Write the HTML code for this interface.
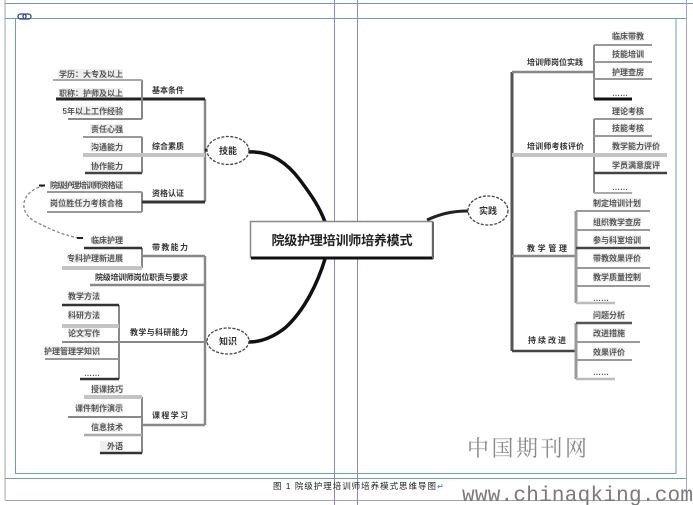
<!DOCTYPE html>
<html><head><meta charset="utf-8">
<style>
html,body{margin:0;padding:0;background:#fff;}
svg{display:block;}
text{font-family:"Liberation Sans","Noto Sans CJK SC",sans-serif;}
.t{font-size:8px;fill:#555;font-weight:bold;}
.l{font-size:8px;fill:#333;font-weight:bold;}
.e{font-size:9px;fill:#333;font-weight:bold;}
</style></head>
<body>
<svg width="693" height="505" viewBox="0 0 693 505" xmlns="http://www.w3.org/2000/svg">
<rect width="693" height="505" fill="#fff"/>
<!-- frame lines -->
<line x1="5" y1="3.5" x2="693" y2="3.5" stroke="#6a9fb5" stroke-width="1"/>
<line x1="5" y1="0" x2="5" y2="500" stroke="#a3a3bb" stroke-width="1"/>
<line x1="686.5" y1="0" x2="686.5" y2="500" stroke="#a3a3bb" stroke-width="1"/>
<line x1="5" y1="18.5" x2="686" y2="18.5" stroke="#6a9fb5" stroke-width="1"/>
<rect x="15.5" y="18.5" width="660.5" height="455" fill="none" stroke="#6a9fb5" stroke-width="1"/>
<line x1="5" y1="478.5" x2="686" y2="478.5" stroke="#6a9fb5" stroke-width="1"/>
<line x1="5" y1="500.5" x2="686" y2="500.5" stroke="#a3a3bb" stroke-width="1"/>
<line x1="334.5" y1="0" x2="334.5" y2="505" stroke="#8a8ac8" stroke-width="1"/>
<line x1="357.5" y1="0" x2="357.5" y2="505" stroke="#8a8ac8" stroke-width="1"/>
<!-- link icon -->
<rect x="18" y="14" width="8" height="5" rx="2.5" fill="none" stroke="#334488" stroke-width="1.3"/>
<rect x="23" y="14" width="8" height="5" rx="2.5" fill="none" stroke="#334488" stroke-width="1.3"/>

<!-- light highlight behind leaf texts -->
<g fill="#efefef">
<rect x="58" y="69" width="65" height="10"/>
<rect x="62" y="88" width="61" height="10"/>
<rect x="75" y="106" width="48" height="10"/>
<rect x="90" y="124" width="33" height="10"/>
<rect x="90" y="142" width="33" height="10"/>
<rect x="90" y="161" width="33" height="10"/>
<rect x="50" y="180" width="73" height="10"/>
<rect x="50" y="198" width="73" height="10"/>
<rect x="93" y="235" width="30" height="10"/>
<rect x="67" y="253" width="56" height="10"/>
<rect x="68" y="291" width="32" height="10"/>
<rect x="68" y="310" width="32" height="10"/>
<rect x="68" y="328" width="32" height="10"/>
<rect x="45" y="346" width="55" height="10"/>
<rect x="92" y="384" width="31" height="10"/>
<rect x="77" y="403" width="46" height="10"/>
<rect x="92" y="422" width="31" height="10"/>
<rect x="100" y="441" width="23" height="10"/>
<rect x="612" y="31" width="32" height="10"/>
<rect x="612" y="49" width="32" height="10"/>
<rect x="612" y="67" width="32" height="10"/>
<rect x="612" y="106" width="32" height="10"/>
<rect x="612" y="123" width="32" height="10"/>
<rect x="612" y="141" width="48" height="10"/>
<rect x="612" y="160" width="48" height="10"/>
<rect x="593" y="198" width="48" height="10"/>
<rect x="593" y="217" width="48" height="10"/>
<rect x="593" y="235" width="48" height="10"/>
<rect x="593" y="253" width="48" height="10"/>
<rect x="593" y="272" width="48" height="10"/>
<rect x="593" y="310" width="32" height="10"/>
<rect x="593" y="328" width="32" height="10"/>
<rect x="593" y="347" width="32" height="10"/>
</g>

<!-- ================= LEFT TOP ================= -->
<g fill="none">
<line x1="205" y1="99" x2="205" y2="202" stroke="#888" stroke-width="2.5"/>
<line x1="56" y1="99" x2="205" y2="99" stroke="#222" stroke-width="3"/>
<line x1="142" y1="80" x2="142" y2="119" stroke="#888" stroke-width="2"/>
<line x1="53" y1="80" x2="142" y2="80" stroke="#aaa" stroke-width="2"/>
<line x1="68" y1="119" x2="142" y2="119" stroke="#888" stroke-width="2"/>
<line x1="142" y1="137" x2="142" y2="173" stroke="#888" stroke-width="2"/>
<line x1="83" y1="137" x2="142" y2="137" stroke="#999" stroke-width="2"/>
<line x1="83" y1="155" x2="205" y2="155" stroke="#c4c4c4" stroke-width="4"/>
<line x1="85" y1="173" x2="142" y2="173" stroke="#444" stroke-width="2.5"/>
<line x1="142" y1="192" x2="142" y2="212" stroke="#888" stroke-width="2"/>
<line x1="47" y1="192" x2="142" y2="192" stroke="#999" stroke-width="2"/>
<line x1="47" y1="212" x2="142" y2="212" stroke="#999" stroke-width="2"/>
<line x1="142" y1="202" x2="205" y2="202" stroke="#333" stroke-width="3"/>
<line x1="205" y1="150" x2="208" y2="150" stroke="#222" stroke-width="3"/>
</g>
<text class="t" x="123" y="77" text-anchor="end">学历：大专及以上</text>
<text class="t" x="123" y="96" text-anchor="end">职称：护师及以上</text>
<text class="t" x="123" y="114" text-anchor="end">5年以上工作经验</text>
<text class="t" x="123" y="132" text-anchor="end">责任心强</text>
<text class="t" x="123" y="150" text-anchor="end">沟通能力</text>
<text class="t" x="123" y="169" text-anchor="end">协作能力</text>
<text class="t" x="123" y="188" text-anchor="end" textLength="73">院级护理培训师资格证</text>
<text class="t" x="123" y="206" text-anchor="end" textLength="73">岗位胜任力考核合格</text>
<text class="l" x="152" y="93">基本条件</text>
<text class="l" x="152" y="149">综合素质</text>
<text class="l" x="152" y="196">资格认证</text>

<!-- dashed connector -->
<path d="M44 186 C22 190 16 212 36 222 S 66 236 80 238" fill="none" stroke="#888" stroke-width="1.3" stroke-dasharray="3,2"/>
<line x1="39" y1="185.5" x2="45" y2="185.5" stroke="#222" stroke-width="2"/>
<line x1="77" y1="238" x2="83" y2="238" stroke="#222" stroke-width="2"/>

<!-- ================= LEFT BOTTOM ================= -->
<g fill="none">
<line x1="205" y1="256" x2="205" y2="425" stroke="#888" stroke-width="2.5"/>
<line x1="142" y1="248" x2="142" y2="268" stroke="#888" stroke-width="2"/>
<line x1="84" y1="248" x2="142" y2="248" stroke="#333" stroke-width="2.5"/>
<line x1="62" y1="268" x2="142" y2="268" stroke="#c4c4c4" stroke-width="4"/>
<line x1="142" y1="256" x2="205" y2="256" stroke="#888" stroke-width="2.5"/>
<line x1="90" y1="285" x2="205" y2="285" stroke="#888" stroke-width="2.5"/>
<line x1="119" y1="305" x2="119" y2="379" stroke="#888" stroke-width="2"/>
<line x1="62" y1="305" x2="119" y2="305" stroke="#333" stroke-width="2.5"/>
<line x1="62" y1="326" x2="119" y2="326" stroke="#c4c4c4" stroke-width="4"/>
<line x1="62" y1="342" x2="208" y2="342" stroke="#888" stroke-width="2"/>
<line x1="45" y1="359" x2="119" y2="359" stroke="#999" stroke-width="2"/>
<line x1="80" y1="379" x2="119" y2="379" stroke="#333" stroke-width="2.5"/>
<line x1="142" y1="397" x2="142" y2="453" stroke="#888" stroke-width="2"/>
<line x1="84" y1="397" x2="142" y2="397" stroke="#c4c4c4" stroke-width="4"/>
<line x1="68" y1="417" x2="142" y2="417" stroke="#888" stroke-width="2"/>
<line x1="84" y1="435" x2="142" y2="435" stroke="#aaa" stroke-width="2.5"/>
<line x1="100" y1="453" x2="142" y2="453" stroke="#333" stroke-width="2.5"/>
<line x1="142" y1="425" x2="205" y2="425" stroke="#888" stroke-width="2.5"/>
</g>
<text class="t" x="123" y="243" text-anchor="end">临床护理</text>
<text class="t" x="123" y="261" text-anchor="end">专科护理新进展</text>
<text class="l" x="152" y="250" textLength="36">带教能力</text>
<text class="l" x="95" y="280" textLength="93">院级培训师岗位职责与要求</text>
<text class="t" x="100" y="299" text-anchor="end">教学方法</text>
<text class="t" x="100" y="318" text-anchor="end">科研方法</text>
<text class="t" x="100" y="336" text-anchor="end">论文写作</text>
<text class="t" x="100" y="354" text-anchor="end">护理管理学知识</text>
<text class="t" x="100" y="376" text-anchor="end">……</text>
<text class="l" x="130" y="335" textLength="58">教学与科研能力</text>
<text class="t" x="123" y="392" text-anchor="end">授课技巧</text>
<text class="t" x="123" y="411" text-anchor="end">课件制作演示</text>
<text class="t" x="123" y="430" text-anchor="end">信息技术</text>
<text class="t" x="123" y="449" text-anchor="end">外语</text>
<text class="l" x="152" y="418" textLength="36">课程学习</text>

<!-- ================= RIGHT ================= -->
<g fill="none">
<line x1="512" y1="72" x2="512" y2="351" stroke="#555" stroke-width="3"/>
<line x1="512" y1="72" x2="594" y2="72" stroke="#888" stroke-width="2.5"/>
<line x1="594" y1="45" x2="594" y2="99" stroke="#888" stroke-width="2"/>
<line x1="594" y1="45" x2="652" y2="45" stroke="#999" stroke-width="2"/>
<line x1="594" y1="62" x2="652" y2="62" stroke="#999" stroke-width="2"/>
<line x1="594" y1="79" x2="652" y2="79" stroke="#999" stroke-width="2"/>
<line x1="594" y1="99" x2="632" y2="99" stroke="#111" stroke-width="3"/>
<line x1="594" y1="119" x2="594" y2="193" stroke="#888" stroke-width="2"/>
<line x1="594" y1="119" x2="652" y2="119" stroke="#999" stroke-width="2"/>
<line x1="594" y1="136" x2="652" y2="136" stroke="#999" stroke-width="2"/>
<line x1="512" y1="155" x2="667" y2="155" stroke="#c4c4c4" stroke-width="4"/>
<line x1="594" y1="173" x2="667" y2="173" stroke="#444" stroke-width="2.5"/>
<line x1="594" y1="193" x2="632" y2="193" stroke="#aaa" stroke-width="2"/>
<line x1="512" y1="256" x2="576" y2="256" stroke="#888" stroke-width="2.5"/>
<line x1="576" y1="211" x2="576" y2="303" stroke="#999" stroke-width="3"/>
<line x1="576" y1="211" x2="650" y2="211" stroke="#999" stroke-width="2"/>
<line x1="576" y1="230" x2="650" y2="230" stroke="#999" stroke-width="2"/>
<line x1="576" y1="248" x2="650" y2="248" stroke="#444" stroke-width="2.5"/>
<line x1="576" y1="268" x2="650" y2="268" stroke="#999" stroke-width="2"/>
<line x1="576" y1="286" x2="650" y2="286" stroke="#999" stroke-width="2"/>
<line x1="576" y1="303" x2="615" y2="303" stroke="#bbb" stroke-width="2.5"/>
<line x1="512" y1="351" x2="576" y2="351" stroke="#444" stroke-width="2.5"/>
<line x1="576" y1="323" x2="576" y2="379" stroke="#999" stroke-width="3"/>
<line x1="576" y1="323" x2="632" y2="323" stroke="#555" stroke-width="2.5"/>
<line x1="576" y1="342" x2="640" y2="342" stroke="#999" stroke-width="2"/>
<line x1="576" y1="360" x2="632" y2="360" stroke="#999" stroke-width="2"/>
<line x1="576" y1="379" x2="615" y2="379" stroke="#bbb" stroke-width="2.5"/>
</g>
<text class="l" x="527" y="65" textLength="56">培训师岗位实践</text>
<text class="t" x="612" y="39">临床带教</text>
<text class="t" x="612" y="57">技能培训</text>
<text class="t" x="612" y="75">护理查房</text>
<text class="t" x="612" y="96">……</text>
<text class="l" x="527" y="149" textLength="57">培训师考核评价</text>
<text class="t" x="612" y="114">理论考核</text>
<text class="t" x="612" y="131">技能考核</text>
<text class="t" x="612" y="149">教学能力评价</text>
<text class="t" x="612" y="168">学员满意度评</text>
<text class="t" x="612" y="190">……</text>
<text class="l" x="527" y="251" textLength="40">教学管理</text>
<text class="t" x="593" y="206">制定培训计划</text>
<text class="t" x="593" y="225">组织教学查房</text>
<text class="t" x="593" y="243">参与科室培训</text>
<text class="t" x="593" y="261">带教效果评价</text>
<text class="t" x="593" y="280">教学质量控制</text>
<text class="t" x="593" y="301">……</text>
<text class="l" x="528" y="343" textLength="38">持续改进</text>
<text class="t" x="593" y="318">问题分析</text>
<text class="t" x="593" y="336">改进措施</text>
<text class="t" x="593" y="355">效果评价</text>
<text class="t" x="593" y="375">……</text>

<!-- curves from center -->
<path d="M249 152 C268 151 285 160 300 180 C312 196 320 208 325 222" fill="none" stroke="#111" stroke-width="3.5"/>
<path d="M325 259 C318 282 305 310 285 328 C272 338 260 342 249 342" fill="none" stroke="#111" stroke-width="3.5"/>
<path d="M427 220 C440 214 452 211 468 211" fill="none" stroke="#222" stroke-width="3"/>

<!-- ellipses -->
<ellipse cx="228" cy="150.5" rx="21" ry="14" fill="#fff" stroke="#444" stroke-width="1.3" stroke-dasharray="3,1.5"/>
<text class="e" x="228" y="154" text-anchor="middle">技能</text>
<ellipse cx="228" cy="341" rx="21" ry="13" fill="#fff" stroke="#444" stroke-width="1.3" stroke-dasharray="3,1.5"/>
<text class="e" x="228" y="344.5" text-anchor="middle">知识</text>
<ellipse cx="488" cy="210.5" rx="20" ry="14.5" fill="#fff" stroke="#444" stroke-width="1.3" stroke-dasharray="3,1.5"/>
<text class="e" x="488" y="214" text-anchor="middle">实践</text>

<!-- central box -->
<rect x="250.5" y="221.5" width="182" height="36" fill="#fff" stroke="#888" stroke-width="1.5"/>
<line x1="251" y1="258" x2="433" y2="258" stroke="#111" stroke-width="3"/>
<line x1="433" y1="222" x2="433" y2="259" stroke="#666" stroke-width="2"/>
<text x="342" y="245" text-anchor="middle" style="font-size:13px;font-weight:bold;fill:#222;" textLength="141">院级护理培训师培养模式</text>

<!-- watermark & caption -->
<text x="467" y="456" style="font-family:'Liberation Serif','Noto Serif CJK SC',serif;font-size:22px;fill:#8a8a8a;" textLength="120">中国期刊网</text>
<text x="273" y="489" style="font-size:8.5px;fill:#222;" textLength="163">图 1  院级护理培训师培养模式思维导图</text>
<text x="437" y="489" style="font-size:8px;fill:#4466cc;">↵</text>
<text x="462" y="501" style="font-family:'Liberation Mono',monospace;font-size:21px;fill:#7a7a7a;" textLength="231">www.chinaqking.com</text>
</svg>
</body></html>
